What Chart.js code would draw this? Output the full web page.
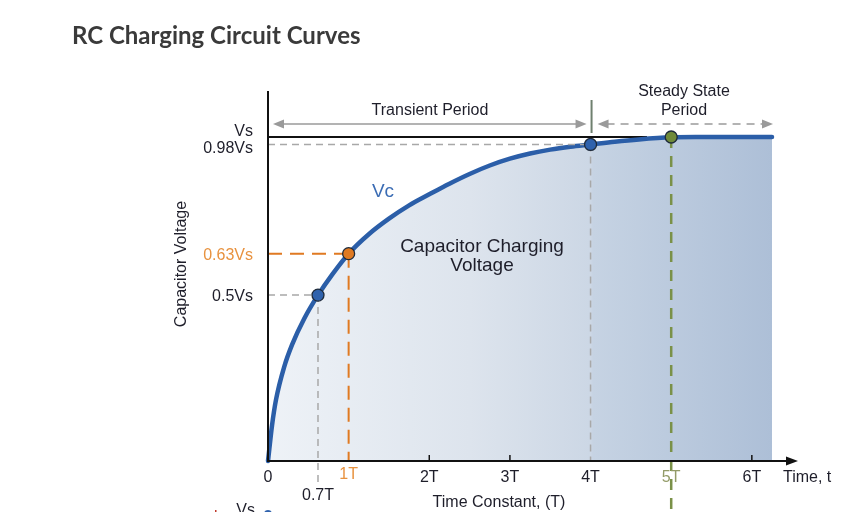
<!DOCTYPE html>
<html><head><meta charset="utf-8">
<script src="https://cdn.jsdelivr.net/npm/chart.js@4"></script>
<style>html,body{margin:0;padding:0;background:#fff;}#wrap{width:866px;height:527px;position:relative;overflow:hidden;}</style>
</head><body><div id="wrap"><canvas id="c" width="866" height="527"></canvas></div>
<script>
// ---- data (time in units of T, voltage as fraction of Vs)
const timeT = [0, 0.05, 0.1, 0.2, 0.3, 0.45, 0.62, 0.8, 1.0, 1.25, 1.5, 1.75, 2.0, 2.25, 2.5, 2.75, 3.0, 3.25, 3.5, 3.75, 4.0, 4.3, 4.6, 5.0, 5.3, 6.25];
const vc    = [0, 0.11, 0.19, 0.29, 0.36, 0.44, 0.512, 0.577, 0.64, 0.70, 0.748, 0.789, 0.823, 0.856, 0.886, 0.912, 0.933, 0.949, 0.961, 0.970, 0.977, 0.9855, 0.9925, 0.999, 1.0, 1.0];
const markerT = [0.62, 1.0, 4.0, 5.0];
const markerV = [0.512, 0.64, 0.977, 1.0];
const xTickValues = [0, 1, 2, 3, 4, 5, 6];
const xTickLabels = ['0', '1T', '2T', '3T', '4T', '5T', '6T'];
const yTickValues = [1.0, 0.977, 0.64, 0.512];
const yTickLabels = ['Vs', '0.98Vs', '0.63Vs', '0.5Vs'];
const title = 'RC Charging Circuit Curves';

const FONT = '"Liberation Sans", Arial, sans-serif';
const TXT = '#1e1e2a';
const ORANGE = '#e07a22', ORANGE_T = '#e8923f', GREEN = '#7a9148', GREEN_T = '#939b68', GRAY = '#a8a8a8';

function dashLine(ctx, x1, y1, x2, y2, color, w, dash) {
  ctx.save(); ctx.strokeStyle = color; ctx.lineWidth = w; ctx.setLineDash(dash);
  ctx.beginPath(); ctx.moveTo(x1, y1); ctx.lineTo(x2, y2); ctx.stroke(); ctx.restore();
}
function arrowHead(ctx, x, y, dir, color, len, half) {
  ctx.save(); ctx.fillStyle = color; ctx.beginPath();
  ctx.moveTo(x, y); ctx.lineTo(x - dir * len, y - half); ctx.lineTo(x - dir * len, y + half);
  ctx.closePath(); ctx.fill(); ctx.restore();
}
function text(ctx, s, x, y, font, color, align) {
  ctx.save(); ctx.font = font; ctx.fillStyle = color; ctx.textAlign = align || 'center';
  ctx.textBaseline = 'alphabetic'; ctx.fillText(s, x, y); ctx.restore();
}

const overlay = {
  id: 'overlay',
  beforeDatasetsDraw(chart) {
    const ctx = chart.ctx, xs = chart.scales.x, ys = chart.scales.y;
    dashLine(ctx, xs.getPixelForValue(0), ys.getPixelForValue(1), xs.getPixelForValue(4.7), ys.getPixelForValue(1), '#111', 2, []);
  },
  afterDatasetDraw(chart, args) {
    if (args.index !== 1) return;
    const ctx = chart.ctx, xs = chart.scales.x, ys = chart.scales.y;
    const x0 = xs.getPixelForValue(0), yb = ys.getPixelForValue(0);
    let px = xs.getPixelForValue(markerT[0]), py = ys.getPixelForValue(markerV[0]);
    dashLine(ctx, x0, py, px, py, GRAY, 1.5, [7, 5]);
    dashLine(ctx, px, py, px, yb + 23, GRAY, 1.5, [7, 5]);
    px = xs.getPixelForValue(markerT[1]); py = ys.getPixelForValue(markerV[1]);
    dashLine(ctx, x0, py, px, py, ORANGE, 2, [14, 8]);
    dashLine(ctx, px, py, px, yb, ORANGE, 2, [14, 8]);
    px = xs.getPixelForValue(markerT[2]); py = ys.getPixelForValue(markerV[2]);
    dashLine(ctx, x0, py, px, py, GRAY, 1.5, [7, 5]);
    dashLine(ctx, px, py, px, yb, GRAY, 1.5, [7, 5]);
    px = xs.getPixelForValue(markerT[3]); py = ys.getPixelForValue(markerV[3]);
    dashLine(ctx, px, py, px, yb + 49, GREEN, 2.5, [11, 8]);
  },
  afterDraw(chart) {
    const ctx = chart.ctx, xs = chart.scales.x, ys = chart.scales.y, ca = chart.chartArea;
    const x0 = xs.getPixelForValue(0), yb = ys.getPixelForValue(0);
    text(ctx, title, 72, 44, 'bold 24px Lato, sans-serif', '#3a3a3a', 'left');
    dashLine(ctx, x0, ca.top, x0, yb + 1, '#111', 2, []);
    dashLine(ctx, x0 - 1, yb, 788, yb, '#111', 2, []);
    arrowHead(ctx, 798, yb, 1, '#111', 12, 4.5);
    [2, 3, 6].forEach(v => { const p = xs.getPixelForValue(v); dashLine(ctx, p, yb - 6, p, yb, '#111', 1.5, []); });
    const xFont = '16px ' + FONT;
    xTickValues.forEach((v, i) => {
      const p = xs.getPixelForValue(v);
      let col = TXT, base = yb + 21;
      if (xTickLabels[i] === '1T') { col = ORANGE_T; base = yb + 18; }
      if (xTickLabels[i] === '5T') col = GREEN_T;
      text(ctx, xTickLabels[i], p, base, xFont, col);
    });
    text(ctx, '0.7T', xs.getPixelForValue(markerT[0]), yb + 39, xFont, TXT);
    text(ctx, 'Time, t', 783, yb + 21, xFont, TXT, 'left');
    text(ctx, 'Time Constant, (T)', 499, yb + 46, xFont, TXT);
    const yOff = [-7, 3, 0, 0];
    yTickValues.forEach((v, i) => {
      const p = ys.getPixelForValue(v) + 6 + yOff[i];
      text(ctx, yTickLabels[i], 253, p, xFont, yTickLabels[i] === '0.63Vs' ? ORANGE_T : TXT, 'right');
    });
    ctx.save(); ctx.translate(186, 264); ctx.rotate(-Math.PI / 2);
    text(ctx, 'Capacitor Voltage', 0, 0, '16px ' + FONT, TXT); ctx.restore();
    text(ctx, 'Vc', 383, 197, '19px ' + FONT, '#3b6cb4');
    text(ctx, 'Capacitor Charging', 482, 252, '19px ' + FONT, TXT);
    text(ctx, 'Voltage', 482, 271, '19px ' + FONT, TXT);
    const ay = 124, sepX = xs.getPixelForValue(4) + 1;
    dashLine(ctx, 282, ay, sepX - 12, ay, '#9a9a9a', 1.5, []);
    arrowHead(ctx, 273, ay, -1, '#9a9a9a', 11, 4.5);
    arrowHead(ctx, sepX - 5, ay, 1, '#9a9a9a', 11, 4.5);
    dashLine(ctx, sepX, 100, sepX, 133, '#6f806f', 2, []);
    dashLine(ctx, sepX + 15, ay, 763, ay, '#9a9a9a', 1.5, [8, 6]);
    arrowHead(ctx, sepX + 6, ay, -1, '#9a9a9a', 11, 4.5);
    arrowHead(ctx, 773, ay, 1, '#9a9a9a', 11, 4.5);
    text(ctx, 'Transient Period', 430, 115, '16px ' + FONT, TXT);
    text(ctx, 'Steady State', 684, 96, '16px ' + FONT, TXT);
    text(ctx, 'Period', 684, 115, '16px ' + FONT, TXT);
    ctx.save(); ctx.beginPath(); ctx.rect(0, 0, 866, 512); ctx.clip();
    text(ctx, 'Vs', 255, 515, '16px ' + FONT, TXT, 'right');
    ctx.fillStyle = '#2f62ad'; ctx.beginPath(); ctx.arc(268, 514, 4, 0, Math.PI * 2); ctx.fill();
    ctx.fillStyle = '#c0392b'; ctx.fillRect(215, 510, 1.5, 2);
    ctx.restore();
  }
};

new Chart(document.getElementById('c'), {
  type: 'scatter',
  data: {
    datasets: [
      {
        label: 'markers',
        data: markerT.map((t, i) => ({ x: t, y: markerV[i] })),
        pointRadius: 6, pointHoverRadius: 6,
        pointBackgroundColor: ['#2f62ad', ORANGE, '#2f62ad', '#6f8a3a'],
        pointBorderColor: '#1e2a3a', pointBorderWidth: 1.3,
        showLine: false, clip: false
      },
      {
        label: 'Vc',
        data: timeT.map((t, i) => ({ x: t, y: vc[i] })),
        showLine: true, pointRadius: 0, pointHoverRadius: 0,
        borderColor: '#2b5ea8', borderWidth: 4.5, borderCapStyle: 'round', borderJoinStyle: 'round',
        cubicInterpolationMode: 'monotone', clip: false,
        fill: 'origin',
        backgroundColor: (c) => {
          const ca = c.chart.chartArea;
          if (!ca) return '#dbe3ed';
          const g = c.chart.ctx.createLinearGradient(ca.left, 0, ca.right, 0);
          g.addColorStop(0, '#eef2f7');
          g.addColorStop(0.4, '#dde4ed');
          g.addColorStop(0.64, '#ccd7e5');
          g.addColorStop(0.645, '#c6d3e3');
          g.addColorStop(1, '#adbfd7');
          return g;
        }
      }
    ]
  },
  options: {
    responsive: false, animation: false, devicePixelRatio: 1,
    layout: { padding: { left: 268, right: 94, top: 91, bottom: 66 } },
    plugins: { legend: { display: false }, tooltip: { enabled: false }, title: { display: false } },
    scales: {
      x: { type: 'linear', min: 0, max: 6.25, display: false },
      y: { type: 'linear', min: 0, max: 1.142, display: false }
    }
  },
  plugins: [overlay]
});
</script></body></html>
